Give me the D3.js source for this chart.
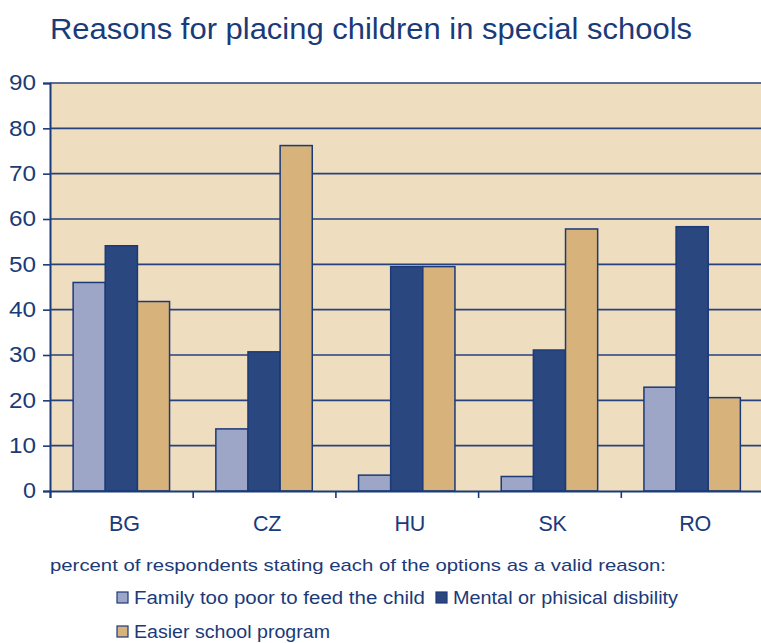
<!DOCTYPE html>
<html>
<head>
<meta charset="utf-8">
<script src="https://cdn.jsdelivr.net/npm/d3@7"></script>
<style>
  body { margin: 0; background: #fff; }
  text { font-family: "Liberation Sans", Arial, sans-serif; fill: #1b3a78; }
</style>
</head>
<body>
<div id="chart"></div>
<script>
const countries = ["BG", "CZ", "HU", "SK", "RO"];
const seriesNames = ["Family too poor to feed the child", "Mental or phisical disbility", "Easier school program"];
const poor = [46, 13.7, 3.5, 3.2, 22.9];
const disability = [54.1, 30.7, 49.5, 31.1, 58.3];
const easier = [41.8, 76.2, 49.5, 57.8, 20.6];
const yTicks = [0, 10, 20, 30, 40, 50, 60, 70, 80, 90];
const colors = ["#9da6c6", "#2b477f", "#d7b27a"];

const w = 761, h = 643;
const plotL = 50, plotR = 763.5, plotT = 83, plotB = 491;
const navy = "#1b3a78";

const svg = d3.select('#chart').append('svg')
  .attr('width', w).attr('height', h);

svg.append('text')
  .attr('x', 50).attr('y', 39)
  .attr('font-size', 29.5)
  .attr('textLength', 642).attr('lengthAdjust', 'spacingAndGlyphs')
  .text("Reasons for placing children in special schools");

const xScale = d3.scaleBand().domain(countries).range([plotL, plotR]);
const xInner = d3.scaleBand().domain(d3.range(3)).range([0, xScale.bandwidth()]).paddingOuter(0.72);
const yScale = d3.scaleLinear().domain([0, 90]).range([plotB, plotT]);

svg.append('rect')
  .attr('x', plotL).attr('y', plotT)
  .attr('width', plotR - plotL).attr('height', plotB - plotT)
  .attr('fill', '#eeddbf');

// gridlines + y ticks
const yAxis = d3.axisLeft(yScale).tickValues(yTicks).tickSize(7).tickPadding(7);
svg.append('g')
  .attr('transform', 'translate(' + plotL + ',0)')
  .call(yAxis)
  .attr('font-size', 21.5)
  .attr('font-family', '"Liberation Sans", Arial, sans-serif')
  .call(g => g.select('.domain').attr('stroke', navy).attr('stroke-width', 2))
  .call(g => g.selectAll('.tick line').attr('stroke', navy).attr('stroke-width', 1.6))
  .call(g => g.selectAll('.tick text').attr('fill', navy)
    .attr('textLength', d => d === 0 ? 13 : 27).attr('lengthAdjust', 'spacingAndGlyphs'));

svg.append('g')
  .selectAll('line')
  .data(yTicks.filter(d => d > 0))
  .enter()
  .append('line')
  .attr('x1', plotL).attr('x2', plotR)
  .attr('y1', d => yScale(d)).attr('y2', d => yScale(d))
  .attr('stroke', '#27427c').attr('stroke-width', 1.6);

const rows = countries.map((c, i) => ({ c: c, vals: [poor[i], disability[i], easier[i]] }));

svg.append('g')
  .selectAll('g')
  .data(rows)
  .enter()
  .append('g')
  .attr('transform', d => 'translate(' + xScale(d.c) + ',0)')
  .selectAll('rect')
  .data(d => d.vals)
  .enter()
  .append('rect')
  .attr('x', (d, i) => xInner(i))
  .attr('width', xInner.bandwidth())
  .attr('y', d => yScale(d))
  .attr('height', d => yScale(0) - yScale(d))
  .attr('fill', (d, i) => colors[i])
  .attr('stroke', navy)
  .attr('stroke-width', 1.5);

// x axis
const xAxis = d3.axisBottom(d3.scaleLinear().domain([0, 5]).range([plotL, plotR]))
  .tickValues([0, 1, 2, 3, 4, 5]).tickSize(7).tickFormat('');
svg.append('g')
  .attr('transform', 'translate(0,' + plotB + ')')
  .call(xAxis)
  .call(g => g.select('.domain').attr('stroke', navy).attr('stroke-width', 2))
  .call(g => g.selectAll('.tick line').attr('stroke', navy).attr('stroke-width', 1.6));

svg.append('g')
  .selectAll('text')
  .data(countries)
  .enter()
  .append('text')
  .attr('x', d => xScale(d) + xScale.bandwidth() / 2 + 3)
  .attr('y', 531)
  .attr('text-anchor', 'middle')
  .attr('font-size', 21.5)
  .attr('letter-spacing', -0.3)
  .text(d => d);

// legend
svg.append('text')
  .attr('x', 50).attr('y', 571)
  .attr('font-size', 17)
  .attr('textLength', 616).attr('lengthAdjust', 'spacingAndGlyphs')
  .text("percent of respondents stating each of the options as a valid reason:");

const legendPos = [[117, 592, 291], [436, 592, 225], [117, 626, 196]];
const legend = svg.append('g')
  .selectAll('g')
  .data(seriesNames)
  .enter()
  .append('g')
  .attr('transform', (d, i) => 'translate(' + legendPos[i][0] + ',' + legendPos[i][1] + ')');
legend.append('rect')
  .attr('width', 11).attr('height', 11)
  .attr('fill', (d, i) => colors[i])
  .attr('stroke', navy).attr('stroke-width', 1.2);
legend.append('text')
  .attr('x', 17).attr('y', 11.5)
  .attr('font-size', 17.5)
  .attr('textLength', (d, i) => legendPos[i][2]).attr('lengthAdjust', 'spacingAndGlyphs')
  .text(d => d);
</script>
</body>
</html>
